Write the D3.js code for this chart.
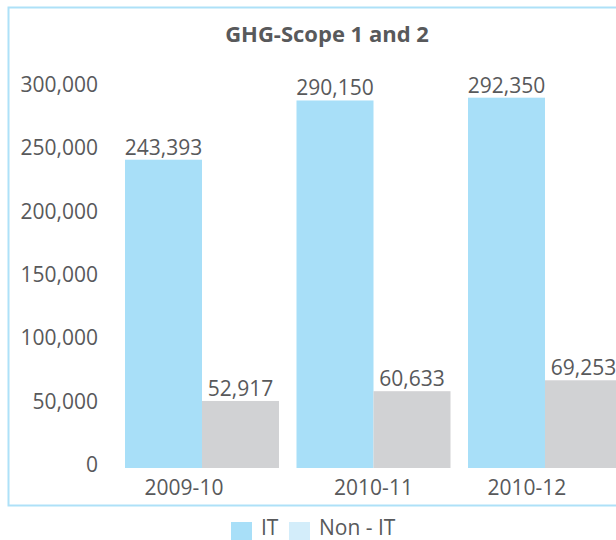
<!DOCTYPE html>
<html>
<head>
<meta charset="utf-8">
<script src="https://cdn.jsdelivr.net/npm/d3@7"></script>
<style>
    body { margin: 0; background: #fff; }
    svg { display: block; font-family: "Open Sans", sans-serif; }
    .lbl { fill: #58595b; font-size: 21px; }
</style>
</head>
<body>
<div id="chart"></div>
<script>
// data
var years = ["2009-10", "2010-11", "2010-12"];
var itValues = [243393, 290150, 292350];
var nonItValues = [52917, 60633, 69253];
var yTicks = [0, 50000, 100000, 150000, 200000, 250000, 300000];
var seriesNames = ["IT", "Non - IT"];

var width = 616,
    height = 540;

var colIT = "#a8dff8",
    colNonIT = "#d1d2d4",
    colLegendNonIT = "#d3edfa",
    colBorder = "#aee1f8";

// the original nudges the outer category labels to the left
var catShift = [-18, 0, -18];

var svg = d3.select("#chart").append("svg")
    .attr("width", width)
    .attr("height", height);

// frame, right side runs off the page like the original
svg.append("rect")
    .attr("x", 8.5)
    .attr("y", 7.5)
    .attr("width", 700)
    .attr("height", 498)
    .attr("fill", "none")
    .attr("stroke", colBorder)
    .attr("stroke-width", 2);

svg.append("text")
    .attr("x", 327)
    .attr("y", 42)
    .attr("text-anchor", "middle")
    .attr("fill", "#58595b")
    .attr("font-size", "22px")
    .attr("font-weight", "bold")
    .text("GHG-Scope 1 and 2");

var x0 = d3.scaleBand()
    .domain(years)
    .range([125, 622])
    .paddingInner(0.102)
    .paddingOuter(0);

var x1 = d3.scaleBand()
    .domain(seriesNames)
    .range([0, x0.bandwidth()]);

var y = d3.scaleLinear()
    .domain([0, 300000])
    .range([468, 88]);

var fmt = d3.format(",");

// y axis, labels only
var yAxis = svg.append("g")
    .attr("transform", "translate(98,0)")
    .call(d3.axisLeft(y).tickValues(yTicks).tickFormat(fmt).tickSize(0).tickPadding(0));
yAxis.attr("font-family", null).attr("font-size", null);
yAxis.select(".domain").remove();
yAxis.selectAll("text")
    .attr("class", "lbl")
    .attr("fill", null)
    .attr("dy", "0.36em")
    .attr("y", -4);

var rows = years.map(function(d, i) {
    return { year: d, values: [itValues[i], nonItValues[i]] };
});

var groups = svg.selectAll(".group")
    .data(rows)
    .enter().append("g")
    .attr("class", "group")
    .attr("transform", function(d) { return "translate(" + x0(d.year) + ",0)"; });

groups.selectAll("rect")
    .data(function(d) {
        return d.values.map(function(v, j) { return { key: seriesNames[j], value: v }; });
    })
    .enter().append("rect")
    .attr("x", function(d) { return x1(d.key); })
    .attr("width", x1.bandwidth())
    .attr("y", function(d) { return y(d.value); })
    .attr("height", function(d) { return y(0) - y(d.value); })
    .attr("fill", function(d) { return d.key == "IT" ? colIT : colNonIT; });

groups.selectAll(".val")
    .data(function(d) {
        return d.values.map(function(v, j) { return { key: seriesNames[j], value: v }; });
    })
    .enter().append("text")
    .attr("class", "lbl val")
    .attr("text-anchor", "middle")
    .attr("x", function(d) { return x1(d.key) + x1.bandwidth() / 2; })
    .attr("y", function(d) { return y(d.value) - 5; })
    .text(function(d) { return fmt(d.value); });

// category labels
svg.selectAll(".cat")
    .data(years)
    .enter().append("text")
    .attr("class", "lbl cat")
    .attr("text-anchor", "middle")
    .attr("x", function(d, i) { return x0(d) + x0.bandwidth() / 2 + catShift[i]; })
    .attr("y", 495)
    .text(function(d) { return d; });

// legend
var legend = svg.append("g");
var legendX = [231, 289];
var legendCols = [colIT, colLegendNonIT];
seriesNames.forEach(function(name, i) {
    legend.append("rect")
        .attr("x", legendX[i])
        .attr("y", 522)
        .attr("width", 21)
        .attr("height", 18)
        .attr("fill", legendCols[i]);
    legend.append("text")
        .attr("class", "lbl")
        .attr("x", legendX[i] + 30)
        .attr("y", 535)
        .text(name);
});
</script>
</body>
</html>
